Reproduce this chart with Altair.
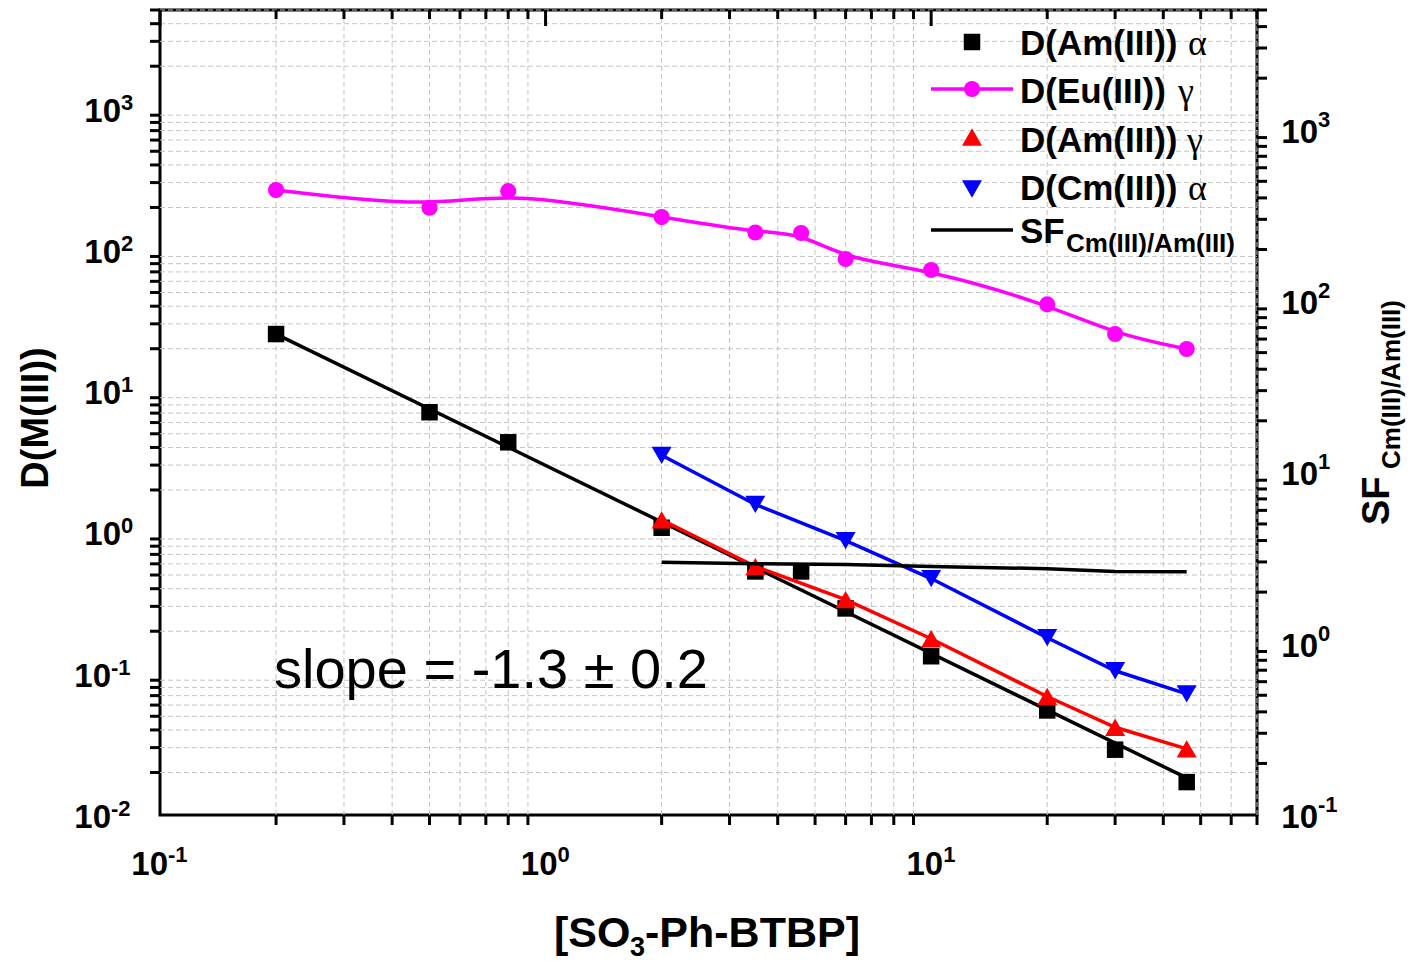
import altair as alt
import pandas as pd

# ---------------- data ----------------
conc = [0.2, 0.5, 0.8, 2, 3.5, 4.6, 6, 10, 20, 30, 46]
d_am_alpha = [25.4, 7.1, 4.35, 1.08, 0.53, 0.53, 0.29, 0.133, 0.055, 0.029, 0.0171]
d_eu_gamma = [266, 199, 261, 171, 133, 132, 86.3, 72.1, 41.2, 25.4, 19.9]

conc_b = [2, 3.5, 6, 10, 20, 30, 46]
d_am_gamma = [1.23, 0.574, 0.335, 0.177, 0.069, 0.0418, 0.0294]
d_cm_alpha = [3.52, 1.58, 0.877, 0.472, 0.18, 0.105, 0.072]
sf_cm_am = [2.99, 2.93, 2.90, 2.82, 2.74, 2.64, 2.63]

fit_x = [0.2, 46]
fit_y = [25.4, 0.0183]

# ---------------- tick values / labels ----------------
x_major = [0.1, 1, 10]
x_major_exp = ["-1", "0", "1"]
x_minor = [m * 10.0 ** k for k in (-1, 0, 1) for m in range(2, 10) if m * 10.0 ** k <= 70]

yl_major = [0.01, 0.1, 1, 10, 100, 1000]
yl_major_exp = ["-2", "-1", "0", "1", "2", "3"]
yl_minor = [m * 10.0 ** k for k in range(-2, 4) for m in range(2, 10) if m * 10.0 ** k <= 5000]

yr_major = [0.1, 1, 10, 100, 1000]
yr_major_exp = ["-1", "0", "1", "2", "3"]
yr_minor = [m * 10.0 ** k for k in range(-1, 4) for m in range(2, 10) if m * 10.0 ** k <= 5000]

W, H = 1097, 805
FONT = "Liberation Sans"
MAG, RED, BLUE = "#ff00ff", "#ff0000", "#0000ff"
LW = 3.5

xs = alt.Scale(type="log", domain=[0.1, 70], nice=False)
yls = alt.Scale(type="log", domain=[0.01, 5000], nice=False)
yrs = alt.Scale(type="log", domain=[0.1, 5000], nice=False)


def X(f):
    return alt.X(f, type="quantitative", scale=xs, axis=None)


def YL(f):
    return alt.Y(f, type="quantitative", scale=yls, axis=None)


def YR(f):
    return alt.Y(f, type="quantitative", scale=yrs, axis=None)


ax_common = dict(labels=False, title=None, tickSize=16, tickWidth=3, tickColor="black",
                 domainColor="black", domainWidth=3, gridColor="#9a9a9a", gridWidth=1)

df_main = pd.DataFrame({"x": conc, "am_a": d_am_alpha, "eu_g": d_eu_gamma})
df_b = pd.DataFrame({"x": conc_b, "am_g": d_am_gamma, "cm_a": d_cm_alpha, "sf": sf_cm_am})
df_fit = pd.DataFrame({"x": fit_x, "y": fit_y})
df_xmin = pd.DataFrame({"v": x_minor})
df_ylmin = pd.DataFrame({"v": yl_minor})
df_yrmin = pd.DataFrame({"v": yr_minor})
df_xmaj = pd.DataFrame({"v": x_major, "e": x_major_exp})
df_ylmaj = pd.DataFrame({"v": yl_major, "e": yl_major_exp})
df_yrmaj = pd.DataFrame({"v": yr_major, "e": yr_major_exp})
one = pd.DataFrame({"a": [0]})

# ---------------- grid & minor ticks ----------------
grid_style = dict(color="#c4c4c4", strokeWidth=1, strokeDash=[5, 3])
minor_grid_v = alt.Chart(df_xmin).mark_rule(**grid_style).encode(
    x=X("v"), y=alt.value(0), y2=alt.value(H))
minor_grid_h = alt.Chart(df_ylmin).mark_rule(**grid_style).encode(
    y=YL("v"), x=alt.value(0), x2=alt.value(W))

tick_style = dict(color="black", strokeWidth=3)
bottom_minor = alt.Chart(df_xmin).mark_rule(**tick_style).encode(
    x=X("v"), y=alt.value(H), y2=alt.value(H + 10))
top_minor = alt.Chart(df_xmin).mark_rule(**tick_style).encode(
    x=X("v"), y=alt.value(0), y2=alt.value(9))
top_major = alt.Chart(df_xmaj).mark_rule(**tick_style).encode(
    x=X("v"), y=alt.value(0), y2=alt.value(16))
left_minor = alt.Chart(df_ylmin).mark_rule(**tick_style).encode(
    y=YL("v"), x=alt.value(-10), x2=alt.value(0))
right_minor = alt.Chart(df_yrmin).mark_rule(**tick_style).encode(
    y=YR("v"), x=alt.value(W), x2=alt.value(W + 10))

# ---------------- tick labels (10 + superscript exponent) ----------------
lab = dict(font=FONT, fontWeight="bold", color="black", baseline="alphabetic")


def left_labels(neg, xpos):
    base = alt.Chart(df_ylmaj).transform_filter("datum.v < 1" if neg else "datum.v >= 1")
    ten = base.mark_text(text="10", align="right", fontSize=33, dy=13, **lab).encode(
        y=YL("v"), x=alt.value(xpos))
    ex = base.mark_text(align="left", fontSize=22, dy=1, **lab).encode(
        y=YL("v"), x=alt.value(xpos), text="e:N")
    return [ten, ex]


def bottom_labels(neg, dx):
    base = alt.Chart(df_xmaj).transform_filter("datum.v < 1" if neg else "datum.v >= 1")
    ten = base.mark_text(text="10", align="right", fontSize=33, dx=dx, **lab).encode(
        x=X("v"), y=alt.value(H + 60))
    ex = base.mark_text(align="left", fontSize=22, dx=dx, **lab).encode(
        x=X("v"), y=alt.value(H + 47), text="e:N")
    return [ten, ex]


right_ten = alt.Chart(df_yrmaj).mark_text(text="10", align="right", fontSize=33, dy=13, **lab).encode(
    y=YR("v"), x=alt.value(1158))
right_exp = alt.Chart(df_yrmaj).mark_text(align="left", fontSize=22, dy=-3, **lab).encode(
    y=YR("v"), x=alt.value(1158), text="e:N")

# ---------------- data marks ----------------
am_a_pts = alt.Chart(df_main).mark_point(shape="square", filled=True, size=272, color="black", opacity=1).encode(
    x=alt.X("x:Q", scale=xs, axis=alt.Axis(values=x_major, grid=True, orient="bottom", **ax_common)),
    y=alt.Y("am_a:Q", scale=yls, axis=alt.Axis(values=yl_major, grid=True, orient="left", **ax_common)),
)
fit_line = alt.Chart(df_fit).mark_line(color="black", strokeWidth=LW).encode(x=X("x"), y=YL("y"))
eu_line = alt.Chart(df_main).mark_line(color=MAG, strokeWidth=LW, interpolate="basis").encode(
    x=X("x"), y=YL("eu_g"))
eu_pts = alt.Chart(df_main).mark_point(shape="circle", filled=True, size=260, color=MAG, opacity=1).encode(
    x=X("x"), y=YL("eu_g"))
am_g_line = alt.Chart(df_b).mark_line(color=RED, strokeWidth=LW).encode(x=X("x"), y=YL("am_g"))
am_g_pts = alt.Chart(df_b).mark_point(shape="triangle-up", filled=True, size=400, color=RED, opacity=1).encode(
    x=X("x"), y=YL("am_g"))
cm_line = alt.Chart(df_b).mark_line(color=BLUE, strokeWidth=LW).encode(x=X("x"), y=YL("cm_a"))
cm_pts = alt.Chart(df_b).mark_point(shape="triangle-down", filled=True, size=400, color=BLUE, opacity=1).encode(
    x=X("x"), y=YL("cm_a"))

sf_line = alt.Chart(df_b).mark_line(color="black", strokeWidth=LW).encode(
    x=X("x"),
    y=alt.Y("sf:Q", scale=yrs, axis=alt.Axis(values=yr_major, grid=False, orient="right", **ax_common)),
)

# ---------------- legend (custom) ----------------
def sym(shape, color, size, x, y):
    return alt.Chart(one).mark_point(shape=shape, filled=True, size=size, color=color, opacity=1).encode(
        x=alt.value(x), y=alt.value(y))


def hline(color, x1, x2, y):
    return alt.Chart(one).mark_rule(color=color, strokeWidth=LW).encode(
        x=alt.value(x1), x2=alt.value(x2), y=alt.value(y))


def txt(s, x, y, size=35, weight="bold", font=FONT, align="left", angle=None, baseline="alphabetic"):
    kw = dict(text=s, font=font, fontSize=size, fontWeight=weight, color="black", align=align, baseline=baseline)
    if angle is not None:
        kw["angle"] = angle
    return alt.Chart(one).mark_text(**kw).encode(x=alt.value(x), y=alt.value(y))


legend = [
    sym("square", "black", 272, 812, 32), txt("D(Am(III))", 860, 45), txt("α", 1028, 45, 36, "normal", "Liberation Serif"),
    hline(MAG, 771, 853, 79), sym("circle", MAG, 260, 812, 79), txt("D(Eu(III))", 860, 93),
    txt("γ", 1018, 93, 36, "normal", "Liberation Serif"),
    sym("triangle-up", RED, 400, 812, 127), txt("D(Am(III))", 860, 142), txt("γ", 1027, 142, 36, "normal", "Liberation Serif"),
    sym("triangle-down", BLUE, 400, 812, 179), txt("D(Cm(III))", 860, 190), txt("α", 1028, 190, 36, "normal", "Liberation Serif"),
    hline("black", 771, 853, 220), txt("SF", 860, 233), txt("Cm(III)/Am(III)", 906, 242, 26),
]

# ---------------- titles & annotation ----------------
texts = [
    txt("slope = -1.3 ± 0.2", 114, 678, 56, "normal"),
    txt("D(M(III))", -112, 408, 38, angle=270, align="center"),
    txt("[SO", 394, 937, 43),
    txt("3", 470, 946, 27),
    txt("-Ph-BTBP]", 485, 937, 43),
    txt("SF", 1229, 515, 38, angle=270),
    txt("Cm(III)/Am(III)", 1240, 459, 26, angle=270),
]

left_group = alt.layer(
    minor_grid_v, minor_grid_h,
    bottom_minor, top_minor, top_major, left_minor,
    *left_labels(False, -39), *left_labels(True, -49),
    *bottom_labels(False, 12), *bottom_labels(True, 8),
    am_a_pts, fit_line, eu_line, eu_pts, am_g_line, am_g_pts, cm_line, cm_pts,
    *legend, *texts,
)
right_group = alt.layer(sf_line, right_minor, right_ten, right_exp)

chart = (
    alt.layer(left_group, right_group)
    .resolve_scale(y="independent")
    .resolve_axis(y="independent")
    .properties(width=W, height=H,
                padding={"left": 152, "top": 2, "right": 150, "bottom": 146},
                autosize=alt.AutoSizeParams(type="none"))
    .configure_view(stroke="black", strokeWidth=3)
)

chart.save("out.html", embed_options={"renderer": "svg", "actions": False})
